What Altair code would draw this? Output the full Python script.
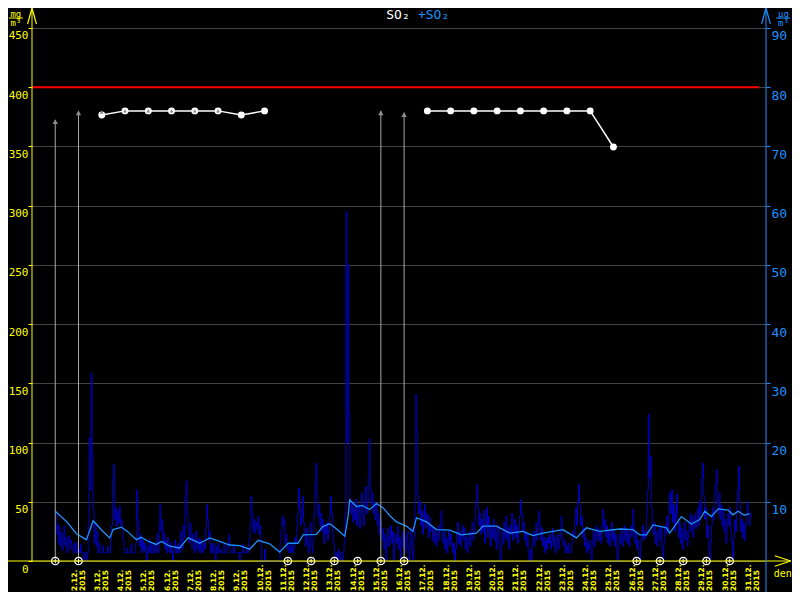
import altair as alt
import pandas as pd

# ---------------- data ----------------
grid_days = list(range(0, 32))
label_days = list(range(2, 32))
label_dates = [f"{d}.12." for d in label_days]
label_year = ["2015"] * len(label_days)

left_ticks = [0, 50, 100, 150, 200, 250, 300, 350, 400, 450]
right_ticks = [10, 20, 30, 40, 50, 60, 70, 80, 90]

limit_value = [400]

daily_days = [3, 4, 5, 6, 7, 8, 9, 10, 17, 18, 19, 20, 21, 22, 23, 24, 25]
daily_vals = [376.5, 380, 380, 380, 380, 380, 376.5, 380,
              380, 380, 380, 380, 380, 380, 380, 380, 349.5]
daily_seg = ["a", "a", "a", "a", "a", "a", "a", "a",
             "b", "b", "b", "b", "b", "b", "b", "b", "b"]

arrow_days = [1, 2, 15, 16]
arrow_vals = [372.5, 380, 380, 378.5]

flag_days = [3, 4, 5, 6, 7, 8]
flag_vals = [379, 380, 380, 380, 380, 380]

missing_days = [1, 2, 11, 12, 13, 14, 15, 16, 26, 27, 28, 29, 30]

avg_days = [1.00, 1.20, 1.50, 1.91, 2.34, 2.63, 3.00, 3.34, 3.49, 3.85, 4.10, 4.49,
            4.70, 5.00, 5.35, 5.57, 5.92, 6.35, 6.71, 7.00, 7.21, 7.64, 8.07, 8.50,
            8.93, 9.36, 9.72, 10.22, 10.65, 11.01, 11.44, 11.66, 12.23, 12.50, 12.80,
            13.10, 13.45, 13.59, 13.66, 13.95, 14.20, 14.38, 14.52, 14.81, 15.09,
            15.40, 15.67, 16.10, 16.38, 16.53, 16.96, 17.39, 17.96, 18.47, 19.11,
            19.39, 19.97, 20.54, 21.11, 21.54, 21.97, 22.83, 23.41, 23.84, 24.41,
            25.27, 25.84, 26.13, 26.42, 26.70, 27.28, 27.42, 27.92, 28.35, 28.71,
            28.93, 29.21, 29.50, 29.93, 30.14, 30.36, 30.63, 30.85]
avg_vals = [8.4, 7.7, 6.6, 4.6, 3.6, 6.8, 5.2, 3.9, 5.3, 5.7, 5.0, 3.6,
            4.0, 3.3, 2.8, 3.3, 2.5, 2.2, 3.9, 3.4, 3.0, 3.9, 3.3, 2.7,
            2.6, 2.0, 3.5, 2.9, 1.5, 3.0, 3.0, 4.4, 4.5, 5.8, 6.3,
            5.4, 4.2, 7.5, 10.3, 9.2, 9.4, 9.0, 8.7, 9.7, 9.0,
            7.6, 6.6, 5.9, 5.0, 7.3, 6.6, 5.3, 5.2, 4.4, 4.7,
            5.9, 5.9, 4.7, 5.0, 4.3, 4.7, 5.3, 3.9, 5.6, 5.0,
            5.4, 5.3, 4.4, 4.4, 6.1, 5.6, 4.7, 7.5, 6.25, 7.0,
            8.4, 7.5, 8.8, 8.6, 7.8, 8.4, 7.7, 8.0]

# hourly values, one list per day (1.12. ... 30.12.)
hourly_by_day = [
    [8.4, 4.5, 6.2, 3.0, 5.8, 2.5, 4.8, 1.8, 3.5, 5.9, 2.6, 4.0, 1.4, 3.2, 4.2, 2.0, 3.5, 2.8, 1.4, 1.4, 3.0, 1.8, 1.4, 3.3],
    [2.0, 1.4, 2.8, 1.4, 1.4, 0.0, 1.4, 1.4, 0.0, 1.4, 6.0, 20.8, 12.0, 31.7, 18.0, 8.7, 3.0, 6.4, 2.5, 5.0, 1.4, 3.0, 1.4, 1.4],
    [1.4, 2.6, 1.4, 1.4, 1.4, 1.4, 2.5, 1.4, 1.4, 3.5, 6.0, 14.0, 16.3, 7.0, 9.0, 5.9, 8.5, 6.5, 9.2, 6.0, 7.0, 5.5, 3.6, 1.4],
    [1.4, 1.4, 2.2, 1.4, 1.4, 1.4, 2.8, 1.4, 1.4, 1.4, 1.4, 3.0, 12.0, 7.0, 4.0, 2.5, 4.4, 1.4, 3.5, 1.8, 3.0, 1.4, 0.0, 2.5],
    [1.4, 3.6, 1.4, 2.8, 1.4, 1.4, 3.0, 1.4, 2.8, 4.5, 1.4, 6.0, 9.5, 5.0, 7.0, 3.0, 4.8, 2.0, 3.5, 1.4, 4.0, 2.5, 1.4, 3.0],
    [1.4, 0.0, 2.0, 3.5, 1.4, 2.6, 1.4, 3.0, 1.4, 5.0, 3.5, 2.0, 6.0, 4.0, 11.0, 13.5, 8.0, 5.5, 3.0, 6.4, 4.0, 2.0, 4.6, 3.5],
    [1.4, 5.0, 2.6, 1.8, 3.8, 1.4, 3.6, 2.0, 1.4, 3.0, 2.0, 5.5, 9.5, 7.0, 3.5, 5.0, 1.4, 2.8, 1.4, 3.0, 1.4, 0.0, 2.5, 1.4],
    [3.0, 1.4, 2.0, 1.4, 1.4, 1.4, 3.0, 1.4, 1.4, 1.4, 2.5, 4.4, 2.0, 1.4, 1.4, 1.4, 2.8, 1.4, 1.4, 1.4, 1.4, 1.4, 0.0, 1.4],
    [1.4, 2.8, 1.4, 1.4, 1.4, 2.0, 1.4, 1.4, 3.5, 6.0, 10.9, 8.0, 5.0, 7.0, 4.7, 6.5, 5.5, 7.5, 4.5, 6.0, 3.5, 0.0, 0.0, 0.0],
    [2.0, 0.0, 0.0, 0.0, 0.0, 0.0, 0.0, 0.0, 0.0, 0.0, 0.0, 0.0, 0.0, 0.0, 0.0, 0.0, 3.0, 5.0, 7.6, 6.0, 7.0, 3.0, 4.5, 2.0],
    [3.0, 1.4, 2.5, 1.4, 3.0, 1.4, 2.0, 4.0, 3.0, 5.5, 8.0, 12.3, 9.0, 6.0, 7.5, 10.9, 6.5, 4.5, 2.5, 5.5, 3.0, 1.4, 4.0, 6.5],
    [2.5, 1.4, 3.5, 8.0, 13.0, 16.5, 11.0, 7.5, 9.5, 6.0, 8.0, 5.0, 7.0, 3.0, 6.0, 4.5, 6.5, 3.5, 5.0, 7.5, 10.9, 8.0, 5.0, 3.0],
    [1.4, 0.0, 1.4, 0.0, 2.0, 0.0, 0.0, 1.4, 0.0, 1.4, 3.0, 8.0, 59.0, 20.0, 50.0, 25.0, 10.3, 8.0, 10.0, 6.5, 9.0, 7.0, 10.5, 6.0],
    [8.5, 9.5, 5.5, 7.5, 11.5, 8.0, 6.0, 9.0, 12.6, 8.0, 10.0, 14.0, 20.6, 12.0, 9.5, 11.5, 8.0, 10.0, 7.0, 9.5, 6.0, 8.0, 4.5, 7.0],
    [5.0, 3.5, 5.5, 2.0, 4.5, 0.0, 3.5, 5.5, 2.5, 4.0, 6.0, 3.0, 5.0, 0.0, 2.0, 4.5, 3.0, 5.8, 2.0, 4.0, 0.0, 3.5, 5.0, 2.5],
    [4.5, 1.4, 3.5, 5.0, 2.0, 0.0, 3.0, 5.5, 2.0, 0.0, 4.0, 10.0, 28.1, 22.0, 11.0, 8.0, 10.0, 6.0, 8.5, 4.5, 7.0, 9.5, 5.5, 8.0],
    [6.5, 4.0, 7.5, 5.0, 6.0, 3.5, 5.5, 3.0, 5.0, 2.5, 4.5, 6.0, 3.5, 5.5, 8.4, 6.0, 3.0, 5.0, 2.0, 4.0, 1.4, 3.5, 5.0, 2.5],
    [4.5, 3.0, 1.4, 3.0, 0.0, 2.0, 4.5, 6.5, 3.0, 5.0, 2.5, 4.0, 6.0, 3.5, 5.5, 2.0, 4.0, 1.4, 3.0, 5.0, 2.5, 4.5, 6.5, 3.5],
    [5.0, 7.0, 10.0, 12.9, 9.0, 6.0, 8.0, 4.5, 7.0, 5.0, 8.5, 3.0, 6.0, 9.0, 4.0, 7.5, 5.0, 2.5, 6.0, 4.0, 7.0, 3.5, 5.5, 2.0],
    [4.5, 6.0, 3.0, 0.0, 2.5, 5.0, 3.0, 6.5, 4.0, 7.5, 3.5, 5.5, 2.0, 6.0, 4.5, 8.0, 3.5, 5.0, 7.0, 4.0, 6.0, 3.0, 5.5, 7.5],
    [10.35, 8.0, 5.0, 6.5, 3.5, 5.0, 2.5, 4.5, 1.4, 0.0, 2.0, 0.0, 3.0, 5.0, 2.5, 4.5, 6.5, 3.5, 5.5, 8.4, 6.0, 3.5, 5.5, 2.5],
    [4.0, 1.4, 3.5, 2.0, 4.0, 3.0, 4.5, 2.0, 3.5, 5.5, 2.5, 4.0, 1.4, 3.0, 4.5, 2.0, 3.5, 5.0, 7.5, 4.0, 2.5, 3.5, 1.4, 2.5],
    [1.4, 3.0, 2.0, 1.4, 1.4, 3.0, 5.0, 4.0, 7.0, 9.0, 6.0, 10.0, 12.9, 9.5, 6.0, 7.5, 4.0, 5.5, 2.5, 4.0, 1.4, 3.0, 2.0, 3.5],
    [1.4, 0.0, 3.0, 5.0, 2.5, 4.5, 6.0, 3.5, 5.5, 3.5, 5.0, 3.0, 6.0, 8.7, 5.5, 7.0, 4.0, 6.0, 3.0, 5.0, 2.5, 4.0, 6.5, 3.5],
    [5.0, 2.5, 4.5, 1.4, 0.0, 2.5, 4.5, 3.0, 5.5, 2.5, 4.0, 6.0, 3.5, 5.5, 3.0, 5.0, 2.5, 4.5, 6.0, 4.0, 8.7, 5.5, 3.0, 5.0],
    [2.0, 3.5, 0.0, 0.0, 2.0, 4.0, 6.0, 3.5, 5.0, 4.0, 8.0, 12.0, 24.7, 14.0, 17.7, 9.0, 6.0, 4.5, 6.5, 3.0, 5.0, 2.5, 4.5, 6.0],
    [3.5, 5.5, 2.0, 0.0, 3.0, 6.0, 4.5, 7.5, 5.0, 9.0, 11.5, 8.0, 12.0, 6.5, 9.5, 5.0, 8.0, 11.3, 7.0, 4.0, 6.5, 3.0, 5.5, 2.0],
    [4.5, 6.5, 3.5, 5.0, 2.5, 4.0, 6.5, 8.0, 5.0, 7.5, 4.0, 6.0, 8.0, 5.5, 7.0, 9.0, 6.0, 10.0, 8.0, 14.0, 16.5, 11.0, 7.0, 9.0],
    [4.0, 6.0, 2.0, 0.0, 3.0, 6.0, 9.0, 7.0, 11.0, 13.0, 15.4, 10.0, 8.0, 11.5, 7.0, 9.5, 6.0, 8.5, 5.0, 7.0, 3.0, 5.5, 8.0, 6.0],
    [9.0, 5.0, 3.0, 0.0, 4.0, 7.0, 5.0, 9.0, 12.0, 16.0, 10.0, 5.0, 7.0, 4.0, 6.5, 3.5, 6.0, 8.0, 10.0, 8.5, 6.0, 7.5, 8.0, 8.0],
]

# ---------------- style ----------------
W, H = 734, 536
PAD_T = 17
X_MAX = 31.56
YL_MAX = 452.5
YR_MAX = 90.5
YELLOW = "#ffff00"
BLUE = "#1e90ff"
NAVY = "#0000b4"
GRID = "#434343"
GREY = "#a8a8a8"
MONO = "DejaVu Sans Mono"

xs = alt.Scale(domain=[0, X_MAX], nice=False, zero=False)
yl = alt.Scale(domain=[0, YL_MAX], nice=False)
yr = alt.Scale(domain=[0, YR_MAX], nice=False)

x_axis = alt.Axis(values=grid_days, labels=False, domain=False, tickColor=YELLOW,
                  tickSize=3, tickWidth=1, grid=True, gridColor=GRID, gridWidth=1,
                  gridOpacity=1, title=None)
left_axis = alt.Axis(orient="left", values=left_ticks, domain=False, tickColor=YELLOW,
                     tickSize=4, tickWidth=1, labelColor=YELLOW, labelFont=MONO,
                     labelFontSize=11, labelBaseline="top", labelOffset=2, labelPadding=0,
                     grid=True, gridColor=GRID, gridWidth=1, gridOpacity=1, title=None)
right_axis = alt.Axis(orient="right", values=right_ticks, domain=False, tickColor=BLUE,
                      tickSize=4, tickWidth=1, labelColor=BLUE, labelFont=MONO,
                      labelFontSize=13, labelBaseline="top", labelOffset=2, labelPadding=1,
                      grid=False, title=None)

# ---------------- frames ----------------
hx, hv = [], []
for i, day_vals in enumerate(hourly_by_day):
    for j, v in enumerate(day_vals):
        hx.append(i + 1 + j / 24.0)
        hv.append(v)
hourly_df = pd.DataFrame({"day": hx, "value": hv})
avg_df = pd.DataFrame({"day": avg_days, "value": avg_vals})
daily_df = pd.DataFrame({"day": daily_days, "value": daily_vals, "seg": daily_seg})
arrow_df = pd.DataFrame({"day": arrow_days, "value": arrow_vals})
flag_df = pd.DataFrame({"day": flag_days, "value": flag_vals})
missing_df = pd.DataFrame({"day": missing_days})
limit_df = pd.DataFrame({"limit": limit_value})
label_df = pd.DataFrame({"day": label_days, "l1": label_dates, "l2": label_year})
one = pd.DataFrame({"k": [0]})

# ---------------- layers ----------------
hourly = alt.Chart(hourly_df).mark_line(color=NAVY, strokeWidth=1, interpolate="step-after").encode(
    x=alt.X("day:Q", scale=xs, axis=x_axis),
    y=alt.Y("value:Q", scale=yr, axis=right_axis),
)
avg = alt.Chart(avg_df).mark_line(color=BLUE, strokeWidth=1.3).encode(
    x=alt.X("day:Q", scale=xs, axis=None),
    y=alt.Y("value:Q", scale=yr, axis=None),
)
arrow_lines = alt.Chart(arrow_df).transform_calculate(zero="0").mark_rule(color=GREY, strokeWidth=1).encode(
    x=alt.X("day:Q", scale=xs, axis=None),
    y=alt.Y("value:Q", scale=yl, axis=None),
    y2="zero:Q",
)
arrow_heads = alt.Chart(arrow_df).mark_point(shape="triangle-up", filled=True, color="#909090",
                                             size=28, opacity=1).encode(
    x=alt.X("day:Q", scale=xs, axis=None),
    y=alt.Y("value:Q", scale=yl, axis=None),
    yOffset=alt.value(2),
)
limit = alt.Chart(limit_df).mark_rule(color="#ff0000", strokeWidth=2).encode(
    y=alt.Y("limit:Q", scale=yl, axis=left_axis),
    x=alt.value(0), x2=alt.value(727),
)
daily_line = alt.Chart(daily_df).mark_line(color="white", strokeWidth=1.5).encode(
    x=alt.X("day:Q", scale=xs, axis=None),
    y=alt.Y("value:Q", scale=yl, axis=None),
    detail="seg:N",
)
daily_pts = alt.Chart(daily_df).mark_point(filled=True, color="white", size=48, opacity=1).encode(
    x=alt.X("day:Q", scale=xs, axis=None),
    y=alt.Y("value:Q", scale=yl, axis=None),
)
flags = alt.Chart(flag_df).mark_point(shape="triangle-up", filled=True, color="#888888",
                                      size=14, opacity=1).encode(
    x=alt.X("day:Q", scale=xs, axis=None),
    y=alt.Y("value:Q", scale=yl, axis=None),
)
miss_circ = alt.Chart(missing_df).transform_calculate(zero="0").mark_point(
    shape="circle", filled=False, fill="black", fillOpacity=1, stroke="white",
    strokeWidth=1.3, size=55, opacity=1).encode(
    x=alt.X("day:Q", scale=xs, axis=None),
    y=alt.Y("zero:Q", scale=yl, axis=None),
)
miss_cross = alt.Chart(missing_df).transform_calculate(zero="0").mark_point(
    shape="M-1,0L1,0M0,-1L0,1", filled=False, stroke="white", strokeWidth=1,
    size=22, opacity=1).encode(
    x=alt.X("day:Q", scale=xs, axis=None),
    y=alt.Y("zero:Q", scale=yl, axis=None),
)
xlabels = alt.Chart(label_df).transform_calculate(txt="datum.l1 + '|' + datum.l2").mark_text(
    angle=270, align="left", baseline="bottom", lineBreak="|", font="DejaVu Sans",
    fontSize=7.5, fontWeight="bold", lineHeight=8, color=YELLOW).encode(
    x=alt.X("day:Q", scale=xs, axis=None),
    y=alt.value(H + 30),
    text="txt:N",
)


def vrule(x, y, y2, color):
    return alt.Chart(one).mark_rule(color=color, strokeWidth=1).encode(
        x=alt.value(x), y=alt.value(y), y2=alt.value(y2))


def hrule(y, x, x2, color, w=1):
    return alt.Chart(one).mark_rule(color=color, strokeWidth=w).encode(
        y=alt.value(y), x=alt.value(x), x2=alt.value(x2))


def glyph(x, y, shape, color, size=256):
    return alt.Chart(one).mark_point(shape=shape, filled=False, stroke=color, strokeWidth=1.2,
                                     size=size, opacity=1).encode(x=alt.value(x), y=alt.value(y))


def label(t, x, y, color, size, font=MONO, align="center"):
    return alt.Chart(pd.DataFrame({"t": [t]})).mark_text(
        font=font, fontSize=size, color=color, align=align, baseline="middle").encode(
        x=alt.value(x), y=alt.value(y), text="t:N")


UP = "M0,-1L-0.55,1M0,-1L0.55,1"
RIGHT = "M1,0L-1,-0.65M1,0L-1,0.65"

decor = [
    vrule(0, -PAD_T, H, YELLOW),
    hrule(H, -25, 758.8, YELLOW),
    vrule(W, -PAD_T, H + 31, BLUE),
    glyph(0, -PAD_T + 8, UP, YELLOW),
    glyph(W, -PAD_T + 8, UP, BLUE),
    glyph(750.8, H, RIGHT, YELLOW),
    label("SO₂", 366, -PAD_T + 7, "white", 13),
    label("+SO₂", 401.6, -PAD_T + 7, BLUE, 13),
    label("mg", -16.2, -PAD_T + 5.5, YELLOW, 9),
    hrule(-PAD_T + 10, -23.2, -9.2, YELLOW),
    label("m³", -16.2, -PAD_T + 15, YELLOW, 9),
    label("µg", 751.5, -PAD_T + 5.5, BLUE, 9),
    hrule(-PAD_T + 10, 744, 758, BLUE),
    label("m³", 751.5, -PAD_T + 15, BLUE, 9),
    label("den", 750.8, H + 13, YELLOW, 10),
]

chart = alt.layer(
    hourly, avg, arrow_lines, arrow_heads, limit, daily_line, daily_pts, flags,
    miss_circ, miss_cross, xlabels, *decor
).resolve_scale(y="independent").properties(
    width=W, height=H,
    padding={"left": 24, "top": PAD_T, "right": 26, "bottom": 584 - PAD_T - H},
    autosize=alt.AutoSizeParams(type="none"),
).configure(background="#000000").configure_view(stroke=None)

chart.save("out.html", embed_options={"renderer": "svg", "actions": False})
